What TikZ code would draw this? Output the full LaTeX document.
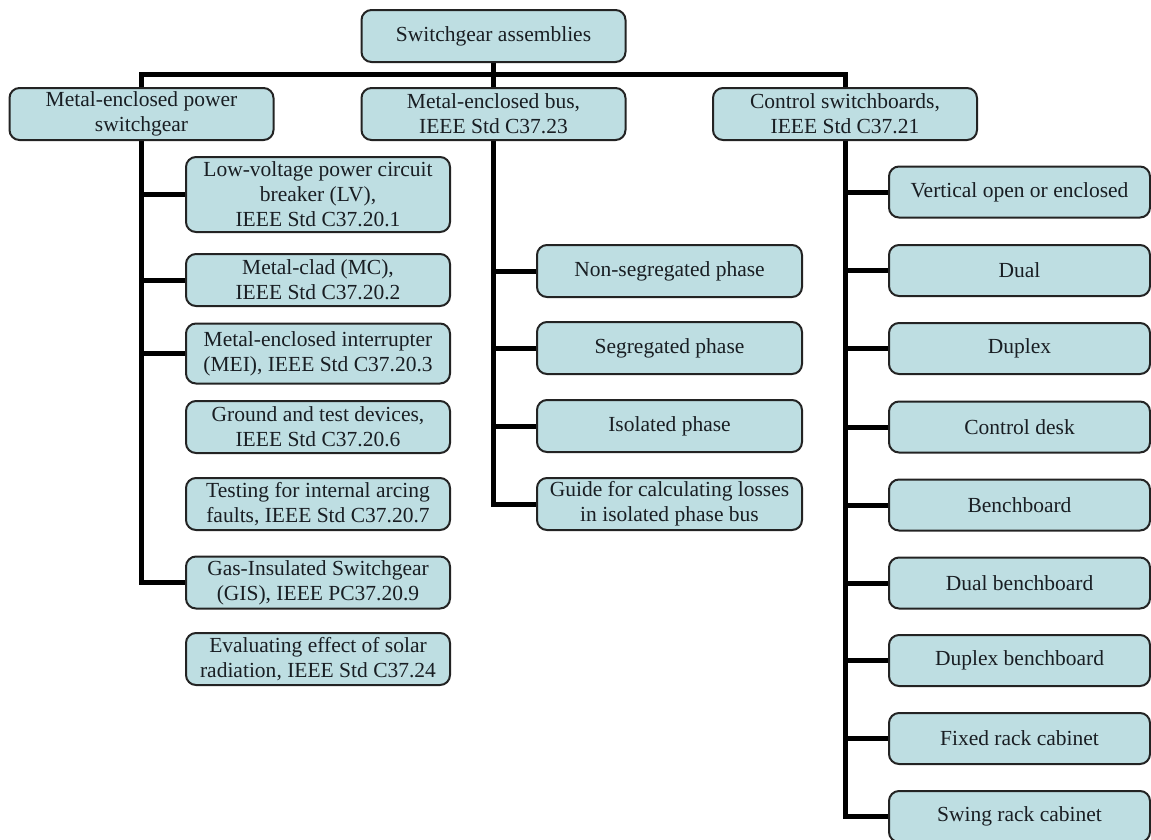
\documentclass[tikz,border=0pt]{standalone}
\usepackage{fontspec}
\setmainfont{Liberation Serif}
\usetikzlibrary{backgrounds}
\definecolor{boxfill}{RGB}{190,222,226}
\definecolor{boxline}{RGB}{35,35,35}
\definecolor{txt}{RGB}{25,30,35}
\tikzset{
  box/.style={draw=boxline, line width=2pt, fill=boxfill, rounded corners=10pt,
    align=center, inner sep=2pt, text=txt,
    font=\fontsize{21.5}{25}\selectfont},
  topw/.style={box, minimum width=264pt, minimum height=52pt},
  lbox/.style={box, minimum width=264pt, minimum height=52pt},
  mbox/.style={box, minimum width=265pt, minimum height=52pt},
  rbox/.style={box, minimum width=261pt, minimum height=51pt},
  conn/.style={line width=5pt, draw=black}
}
\begin{document}
\begin{tikzpicture}[x=1pt,y=-1pt]
\useasboundingbox (0,0) rectangle (1151,839);
% level 0 and 1
\node[topw] (root) at (493.5,36) {Switchgear assemblies};
\node[topw] (left) at (141.5,114) {Metal-enclosed power\\switchgear};
\node[topw] (mid) at (493.5,114) {Metal-enclosed bus,\\IEEE Std C37.23};
\node[topw] (right) at (845,114) {Control switchboards,\\IEEE Std C37.21};
% left column
\node[lbox, minimum height=75pt] (lv) at (318,194.5) {Low-voltage power circuit\\breaker (LV),\\IEEE Std C37.20.1};
\node[lbox] (mc) at (318,280) {Metal-clad (MC),\\IEEE Std C37.20.2};
\node[lbox, minimum height=60pt] (mei) at (318,353.5) {Metal-enclosed interrupter\\(MEI), IEEE Std C37.20.3};
\node[lbox] (gnd) at (318,427) {Ground and test devices,\\IEEE Std C37.20.6};
\node[lbox] (arc) at (318,504) {Testing for internal arcing\\faults, IEEE Std C37.20.7};
\node[lbox] (gis) at (318,582.5) {Gas-Insulated Switchgear\\(GIS), IEEE PC37.20.9};
\node[lbox] (sol) at (318,659) {Evaluating effect of solar\\radiation, IEEE Std C37.24};
% middle column
\node[mbox] (nonseg) at (669.5,271) {Non-segregated phase};
\node[mbox] (seg) at (669.5,348) {Segregated phase};
\node[mbox] (iso) at (669.5,426) {Isolated phase};
\node[mbox] (guide) at (669.5,504) {Guide for calculating losses\\in isolated phase bus};
% right column
\node[rbox] (vert) at (1019.5,192) {Vertical open or enclosed};
\node[rbox] (dual) at (1019.5,270.5) {Dual};
\node[rbox] (duplex) at (1019.5,348.5) {Duplex};
\node[rbox] (desk) at (1019.5,427) {Control desk};
\node[rbox] (bench) at (1019.5,505) {Benchboard};
\node[rbox] (dbench) at (1019.5,583) {Dual benchboard};
\node[rbox] (dxbench) at (1019.5,660.5) {Duplex benchboard};
\node[rbox] (fixed) at (1019.5,738.5) {Fixed rack cabinet};
\node[rbox] (swing) at (1019.5,816.5) {Swing rack cabinet};
% connectors
\begin{pgfonlayer}{background}
\draw[conn] (root.south) -- (mid.north);
\draw[conn] (left.north) -- ++(0,-13) -| (right.north);
\foreach \n in {lv,mc,mei,gis} \draw[conn] (left.south) |- (\n.west);
\foreach \n in {nonseg,seg,iso,guide} \draw[conn] (mid.south) |- (\n.west);
\foreach \n in {vert,dual,duplex,desk,bench,dbench,dxbench,fixed,swing} \draw[conn] (right.south) |- (\n.west);
\end{pgfonlayer}
\end{tikzpicture}
\end{document}
